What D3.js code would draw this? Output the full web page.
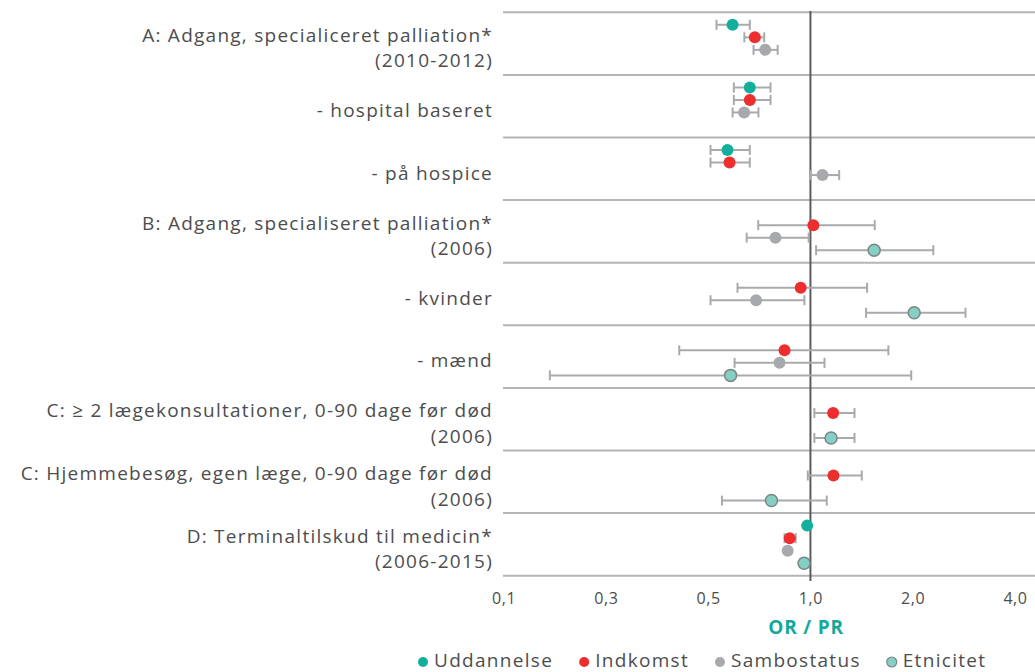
<!doctype html>
<html lang="da">
<head>
  <meta charset="utf-8">
  <title>OR / PR forest plot</title>
  <script src="https://d3js.org/d3.v7.min.js"></script>
  <style>
    body { margin: 0; background: #fff; }
    svg text { font-family: "Open Sans", "Noto Sans", sans-serif; fill: #4d4d4d; }
  </style>
</head>
<body>
<div id="chart"></div>
<script>
  // rows of the plot (label lines)
  const rowLabels = [
    ["A: Adgang, specialiceret palliation*", "(2010-2012)"],
    ["- hospital baseret"],
    ["- på hospice"],
    ["B: Adgang, specialiseret palliation*", "(2006)"],
    ["- kvinder"],
    ["- mænd"],
    ["C: ≥ 2 lægekonsultationer, 0-90 dage før død", "(2006)"],
    ["C: Hjemmebesøg, egen læge, 0-90 dage før død", "(2006)"],
    ["D: Terminaltilskud til medicin*", "(2006-2015)"]
  ];

  const seriesNames = ["Uddannelse", "Indkomst", "Sambostatus", "Etnicitet"];
  const seriesColors = ["#12b09c", "#ee2d2f", "#a8a9ac", "#85cfc5"];

  // [estimate, lower, upper] per row, null = not shown
  const uddannelse = [[0.59, 0.529, 0.663], [0.663, 0.595, 0.763], [0.57, 0.508, 0.663], null, null, null, null, null, [0.978, 0.97, 0.986]];
  const indkomst = [[0.686, 0.639, 0.731], [0.663, 0.595, 0.763], [0.578, 0.508, 0.663], [1.02, 0.702, 1.546], [0.936, 0.61, 1.468], [0.839, 0.411, 1.696], [1.166, 1.027, 1.348], [1.169, 0.982, 1.416], [0.869, 0.839, 0.905]];
  const sambostatus = [[0.736, 0.68, 0.801], [0.638, 0.59, 0.703], [1.085, 1.0, 1.215], [0.789, 0.649, 0.988], [0.692, 0.508, 0.96], [0.811, 0.598, 1.1], null, null, [0.857, 0.85, 0.864]];
  const etnicitet = [null, null, null, [1.54, 1.039, 2.3], [2.02, 1.458, 2.86], [0.582, 0.171, 1.98], [1.15, 1.027, 1.348], [0.768, 0.549, 1.117], [0.958, 0.933, 0.988]];

  const xTicks = [0.125, 0.25, 0.5, 1, 2, 4];

  const allSeries = [uddannelse, indkomst, sambostatus, etnicitet];

  const width = 1035, height = 672;
  const svg = d3.select("#chart").append("svg")
    .attr("width", width)
    .attr("height", height);

  const x = d3.scaleLog().base(2)
    .domain([0.125, 4])
    .range([503.6, 1015]);

  const y = d3.scaleBand()
    .domain(d3.range(rowLabels.length))
    .range([12.3, 575.7]);

  const slot = d3.scalePoint()
    .domain(seriesNames)
    .range([0, y.bandwidth()])
    .padding(1);

  // horizontal separator lines
  const bounds = d3.range(rowLabels.length).map(i => y(i)).concat([y.range()[1]]);
  svg.append("g").selectAll("line")
    .data(bounds)
    .enter().append("line")
    .attr("x1", 503)
    .attr("x2", width)
    .attr("y1", d => d)
    .attr("y2", d => d)
    .attr("stroke", "#b5b5b5")
    .attr("stroke-width", 2);

  // reference line at 1
  svg.append("line")
    .attr("x1", x(1)).attr("x2", x(1))
    .attr("y1", 11).attr("y2", 581)
    .attr("stroke", "#5c5c5c")
    .attr("stroke-width", 2);

  // row labels
  rowLabels.forEach(function (lines, i) {
    const offsets = lines.length === 1 ? [35] : [22.5, 48];
    lines.forEach(function (t, j) {
      svg.append("text")
        .attr("x", 493)
        .attr("y", y(i) + offsets[j])
        .attr("text-anchor", "end")
        .attr("dominant-baseline", "central")
        .style("font-size", "19px")
        .style("letter-spacing", "1.25px")
        .text(t);
    });
  });

  // error bars and points
  allSeries.forEach(function (values, s) {
    const name = seriesNames[s];
    const g = svg.append("g");
    const data = values.map((v, i) => v ? { row: i, est: v[0], lo: v[1], hi: v[2] } : null)
      .filter(d => d);
    const cy = d => y(d.row) + slot(name);

    g.selectAll("line.ci")
      .data(data)
      .enter().append("line")
      .attr("class", "ci")
      .attr("x1", d => x(d.lo)).attr("x2", d => x(d.hi))
      .attr("y1", cy).attr("y2", cy)
      .attr("stroke", "#a9aaad").attr("stroke-width", 2);

    ["lo", "hi"].forEach(function (k) {
      g.selectAll("line.cap-" + k)
        .data(data)
        .enter().append("line")
        .attr("class", "cap-" + k)
        .attr("x1", d => x(d[k])).attr("x2", d => x(d[k]))
        .attr("y1", d => cy(d) - 5).attr("y2", d => cy(d) + 5)
        .attr("stroke", "#a9aaad").attr("stroke-width", 2);
    });

    g.selectAll("circle")
      .data(data)
      .enter().append("circle")
      .attr("cx", d => x(d.est))
      .attr("cy", cy)
      .attr("r", 6)
      .attr("fill", seriesColors[s])
      .attr("stroke", name === "Etnicitet" ? "#7a8786" : "none")
      .attr("stroke-width", 1.5);
  });

  // x axis labels
  const axis = d3.axisBottom(x)
    .tickValues(xTicks)
    .tickSize(0)
    .tickPadding(13)
    .tickFormat(d => d.toFixed(1).replace(".", ","));

  const ax = svg.append("g")
    .attr("transform", "translate(0,580)")
    .call(axis);
  ax.select(".domain").remove();
  ax.selectAll("text")
    .style("font-size", "16px")
    .style("letter-spacing", "0.6px")
    .style("fill", "#4d4d4d")
    .style("font-family", "\"Open Sans\", \"Noto Sans\", sans-serif");

  svg.append("text")
    .attr("x", 806)
    .attr("y", 627)
    .attr("text-anchor", "middle")
    .attr("dominant-baseline", "central")
    .style("font-size", "19px")
    .style("letter-spacing", "0.8px")
    .style("font-weight", "bold")
    .style("fill", "#14a89d")
    .text("OR / PR");

  // legend, items laid out one after another
  const leg = svg.append("g");
  let lx = 423;
  seriesNames.forEach(function (name, i) {
    leg.append("circle")
      .attr("cx", lx)
      .attr("cy", 662)
      .attr("r", 5)
      .attr("fill", seriesColors[i])
      .attr("stroke", name === "Etnicitet" ? "#7a8786" : "none")
      .attr("stroke-width", 1.2);
    const t = leg.append("text")
      .attr("x", lx + 11)
      .attr("y", 660)
      .attr("dominant-baseline", "central")
      .style("font-size", "19px")
      .style("letter-spacing", "1.3px")
      .text(name);
    lx += 11 + t.node().getComputedTextLength() + 31;
  });
</script>
</body>
</html>
